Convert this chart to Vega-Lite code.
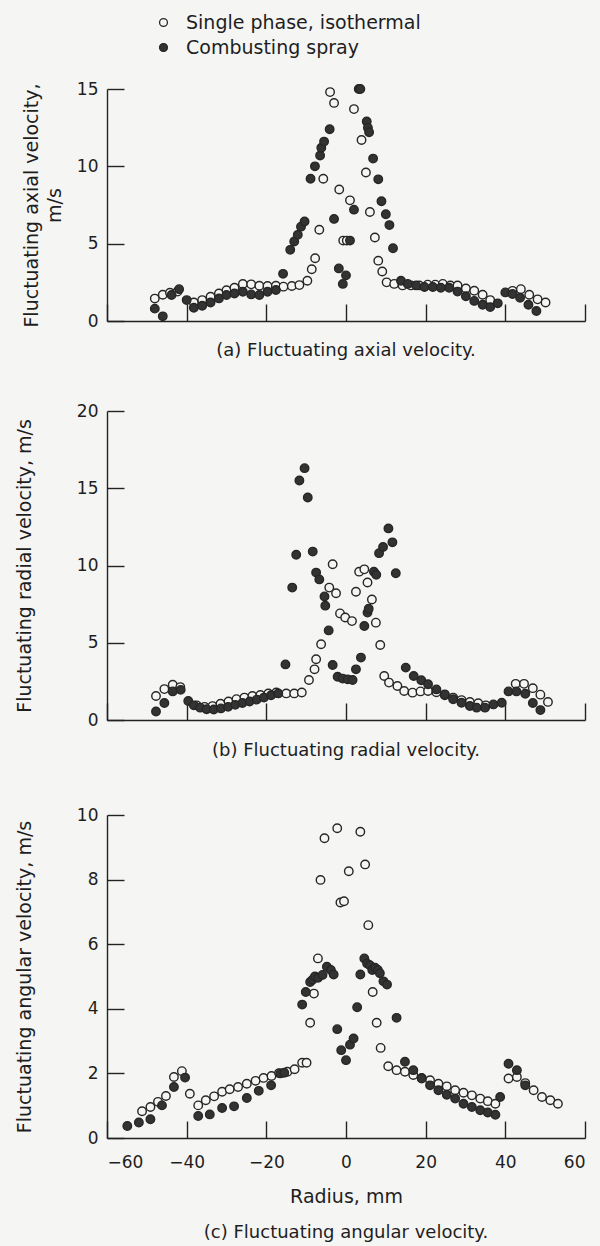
{
  "$schema": "https://vega.github.io/schema/vega-lite/v6.json",
  "background": "#f5f5f3",
  "padding": {"left": 15, "top": 13, "right": 14, "bottom": 5},
  "spacing": 42,
  "config": {
    "view": {"stroke": null},
    "font": "DejaVu Sans",
    "axis": {
      "grid": false,
      "domainColor": "#222",
      "domainWidth": 1.4,
      "tickColor": "#222",
      "tickWidth": 1.4,
      "tickSize": -17,
      "labelFontSize": 17,
      "labelColor": "#1e1e1e",
      "titleFontSize": 19,
      "titleFontWeight": "normal",
      "titleColor": "#1e1e1e"
    },
    "title": {"fontSize": 18, "fontWeight": "normal", "color": "#1e1e1e", "orient": "bottom", "anchor": "middle"}
  },
  "resolve": {"scale": {"fill": "independent"}, "legend": {"fill": "independent"}},
  "datasets": {
    "axial": [
      {"r": -48, "v": 1.45, "s": "Single phase, isothermal"},
      {"r": -46, "v": 1.7, "s": "Single phase, isothermal"},
      {"r": -44.2, "v": 1.83, "s": "Single phase, isothermal"},
      {"r": -42.3, "v": 1.9, "s": "Single phase, isothermal"},
      {"r": -38.2, "v": 1.2, "s": "Single phase, isothermal"},
      {"r": -36.1, "v": 1.35, "s": "Single phase, isothermal"},
      {"r": -34, "v": 1.57, "s": "Single phase, isothermal"},
      {"r": -31.9, "v": 1.78, "s": "Single phase, isothermal"},
      {"r": -30, "v": 1.99, "s": "Single phase, isothermal"},
      {"r": -28, "v": 2.15, "s": "Single phase, isothermal"},
      {"r": -25.9, "v": 2.39, "s": "Single phase, isothermal"},
      {"r": -23.8, "v": 2.37, "s": "Single phase, isothermal"},
      {"r": -21.75, "v": 2.28, "s": "Single phase, isothermal"},
      {"r": -19.7, "v": 2.26, "s": "Single phase, isothermal"},
      {"r": -17.6, "v": 2.28, "s": "Single phase, isothermal"},
      {"r": -15.7, "v": 2.22, "s": "Single phase, isothermal"},
      {"r": -13.6, "v": 2.26, "s": "Single phase, isothermal"},
      {"r": -11.7, "v": 2.32, "s": "Single phase, isothermal"},
      {"r": -9.7, "v": 2.6, "s": "Single phase, isothermal"},
      {"r": -8.6, "v": 3.35, "s": "Single phase, isothermal"},
      {"r": -7.75, "v": 4.06, "s": "Single phase, isothermal"},
      {"r": -6.7, "v": 5.9, "s": "Single phase, isothermal"},
      {"r": -5.7, "v": 9.2, "s": "Single phase, isothermal"},
      {"r": -4, "v": 14.8, "s": "Single phase, isothermal"},
      {"r": -3, "v": 14.1, "s": "Single phase, isothermal"},
      {"r": -1.7, "v": 8.5, "s": "Single phase, isothermal"},
      {"r": -0.7, "v": 5.2, "s": "Single phase, isothermal"},
      {"r": 0.2, "v": 5.2, "s": "Single phase, isothermal"},
      {"r": 1, "v": 7.8, "s": "Single phase, isothermal"},
      {"r": 2, "v": 13.7, "s": "Single phase, isothermal"},
      {"r": 3.9, "v": 11.7, "s": "Single phase, isothermal"},
      {"r": 5, "v": 9.6, "s": "Single phase, isothermal"},
      {"r": 6, "v": 7.05, "s": "Single phase, isothermal"},
      {"r": 7.25, "v": 5.4, "s": "Single phase, isothermal"},
      {"r": 8.1, "v": 3.9, "s": "Single phase, isothermal"},
      {"r": 9.1, "v": 3.2, "s": "Single phase, isothermal"},
      {"r": 10.2, "v": 2.5, "s": "Single phase, isothermal"},
      {"r": 12.1, "v": 2.4, "s": "Single phase, isothermal"},
      {"r": 14.2, "v": 2.3, "s": "Single phase, isothermal"},
      {"r": 16.3, "v": 2.3, "s": "Single phase, isothermal"},
      {"r": 18.4, "v": 2.3, "s": "Single phase, isothermal"},
      {"r": 20.5, "v": 2.35, "s": "Single phase, isothermal"},
      {"r": 22.4, "v": 2.35, "s": "Single phase, isothermal"},
      {"r": 24.3, "v": 2.4, "s": "Single phase, isothermal"},
      {"r": 26.2, "v": 2.3, "s": "Single phase, isothermal"},
      {"r": 28, "v": 2.3, "s": "Single phase, isothermal"},
      {"r": 30.1, "v": 2.1, "s": "Single phase, isothermal"},
      {"r": 32.2, "v": 1.96, "s": "Single phase, isothermal"},
      {"r": 34.3, "v": 1.7, "s": "Single phase, isothermal"},
      {"r": 36.2, "v": 1.35, "s": "Single phase, isothermal"},
      {"r": 41.8, "v": 1.95, "s": "Single phase, isothermal"},
      {"r": 43.9, "v": 2.06, "s": "Single phase, isothermal"},
      {"r": 46, "v": 1.7, "s": "Single phase, isothermal"},
      {"r": 48.1, "v": 1.4, "s": "Single phase, isothermal"},
      {"r": 50.1, "v": 1.2, "s": "Single phase, isothermal"},
      {"r": -48, "v": 0.8, "s": "Combusting spray"},
      {"r": -46, "v": 0.3, "s": "Combusting spray"},
      {"r": -43.8, "v": 1.68, "s": "Combusting spray"},
      {"r": -41.9, "v": 2.06, "s": "Combusting spray"},
      {"r": -40, "v": 1.35, "s": "Combusting spray"},
      {"r": -38.2, "v": 0.86, "s": "Combusting spray"},
      {"r": -36.1, "v": 0.99, "s": "Combusting spray"},
      {"r": -34, "v": 1.2, "s": "Combusting spray"},
      {"r": -31.9, "v": 1.46, "s": "Combusting spray"},
      {"r": -30, "v": 1.68, "s": "Combusting spray"},
      {"r": -28, "v": 1.78, "s": "Combusting spray"},
      {"r": -25.9, "v": 1.89, "s": "Combusting spray"},
      {"r": -23.8, "v": 1.72, "s": "Combusting spray"},
      {"r": -21.75, "v": 1.68, "s": "Combusting spray"},
      {"r": -19.7, "v": 1.89, "s": "Combusting spray"},
      {"r": -17.6, "v": 2.0, "s": "Combusting spray"},
      {"r": -15.8, "v": 3.05, "s": "Combusting spray"},
      {"r": -14.0, "v": 4.6, "s": "Combusting spray"},
      {"r": -13.0, "v": 5.14, "s": "Combusting spray"},
      {"r": -12.1, "v": 5.57, "s": "Combusting spray"},
      {"r": -11.3, "v": 6.1, "s": "Combusting spray"},
      {"r": -10.4, "v": 6.43, "s": "Combusting spray"},
      {"r": -8.9, "v": 9.2, "s": "Combusting spray"},
      {"r": -7.8, "v": 10.0, "s": "Combusting spray"},
      {"r": -6.5, "v": 10.7, "s": "Combusting spray"},
      {"r": -6.2, "v": 11.2, "s": "Combusting spray"},
      {"r": -5.5, "v": 11.6, "s": "Combusting spray"},
      {"r": -4.1, "v": 12.4, "s": "Combusting spray"},
      {"r": -3, "v": 6.6, "s": "Combusting spray"},
      {"r": -1.8, "v": 3.4, "s": "Combusting spray"},
      {"r": -0.8, "v": 2.4, "s": "Combusting spray"},
      {"r": 0, "v": 2.95, "s": "Combusting spray"},
      {"r": 1, "v": 5.2, "s": "Combusting spray"},
      {"r": 2, "v": 7.2, "s": "Combusting spray"},
      {"r": 3.2, "v": 15.0, "s": "Combusting spray"},
      {"r": 3.6, "v": 15.0, "s": "Combusting spray"},
      {"r": 5.2, "v": 12.9, "s": "Combusting spray"},
      {"r": 5.5, "v": 12.5, "s": "Combusting spray"},
      {"r": 5.8, "v": 12.2, "s": "Combusting spray"},
      {"r": 6.8, "v": 10.5, "s": "Combusting spray"},
      {"r": 8.1, "v": 9.16, "s": "Combusting spray"},
      {"r": 8.9, "v": 7.74, "s": "Combusting spray"},
      {"r": 10, "v": 6.9, "s": "Combusting spray"},
      {"r": 10.9, "v": 6.2, "s": "Combusting spray"},
      {"r": 11.8, "v": 4.7, "s": "Combusting spray"},
      {"r": 13.8, "v": 2.6, "s": "Combusting spray"},
      {"r": 15.5, "v": 2.4, "s": "Combusting spray"},
      {"r": 17.6, "v": 2.3, "s": "Combusting spray"},
      {"r": 19.7, "v": 2.2, "s": "Combusting spray"},
      {"r": 21.8, "v": 2.2, "s": "Combusting spray"},
      {"r": 23.8, "v": 2.15, "s": "Combusting spray"},
      {"r": 25.9, "v": 2.15, "s": "Combusting spray"},
      {"r": 28, "v": 1.9, "s": "Combusting spray"},
      {"r": 30.1, "v": 1.6, "s": "Combusting spray"},
      {"r": 32.2, "v": 1.3, "s": "Combusting spray"},
      {"r": 34.3, "v": 1.05, "s": "Combusting spray"},
      {"r": 36.2, "v": 0.9, "s": "Combusting spray"},
      {"r": 38.1, "v": 1.14, "s": "Combusting spray"},
      {"r": 40, "v": 1.85, "s": "Combusting spray"},
      {"r": 41.8, "v": 1.75, "s": "Combusting spray"},
      {"r": 43.7, "v": 1.5, "s": "Combusting spray"},
      {"r": 45.8, "v": 1.05, "s": "Combusting spray"},
      {"r": 47.8, "v": 0.65, "s": "Combusting spray"}
    ],
    "radial": [
      {"r": -47.7, "v": 1.55, "s": "Single phase, isothermal"},
      {"r": -45.6, "v": 2.0, "s": "Single phase, isothermal"},
      {"r": -43.5, "v": 2.28, "s": "Single phase, isothermal"},
      {"r": -41.6, "v": 2.13, "s": "Single phase, isothermal"},
      {"r": -37.5, "v": 0.95, "s": "Single phase, isothermal"},
      {"r": -35.5, "v": 0.85, "s": "Single phase, isothermal"},
      {"r": -33.5, "v": 0.9, "s": "Single phase, isothermal"},
      {"r": -31.5, "v": 1.05, "s": "Single phase, isothermal"},
      {"r": -29.5, "v": 1.2, "s": "Single phase, isothermal"},
      {"r": -27.5, "v": 1.35, "s": "Single phase, isothermal"},
      {"r": -25.5, "v": 1.45, "s": "Single phase, isothermal"},
      {"r": -23.5, "v": 1.55, "s": "Single phase, isothermal"},
      {"r": -21.5, "v": 1.62, "s": "Single phase, isothermal"},
      {"r": -19.5, "v": 1.72, "s": "Single phase, isothermal"},
      {"r": -17.5, "v": 1.78, "s": "Single phase, isothermal"},
      {"r": -15, "v": 1.72, "s": "Single phase, isothermal"},
      {"r": -13, "v": 1.72, "s": "Single phase, isothermal"},
      {"r": -11.1, "v": 1.78, "s": "Single phase, isothermal"},
      {"r": -9.3, "v": 2.59, "s": "Single phase, isothermal"},
      {"r": -7.9, "v": 3.28, "s": "Single phase, isothermal"},
      {"r": -7.5, "v": 3.93, "s": "Single phase, isothermal"},
      {"r": -6.25, "v": 4.9, "s": "Single phase, isothermal"},
      {"r": -4.2, "v": 8.57, "s": "Single phase, isothermal"},
      {"r": -3.35, "v": 10.08, "s": "Single phase, isothermal"},
      {"r": -2.5, "v": 8.2, "s": "Single phase, isothermal"},
      {"r": -1.5, "v": 6.9, "s": "Single phase, isothermal"},
      {"r": -0.2, "v": 6.63, "s": "Single phase, isothermal"},
      {"r": 1.5, "v": 6.4, "s": "Single phase, isothermal"},
      {"r": 2.5, "v": 8.3, "s": "Single phase, isothermal"},
      {"r": 3.3, "v": 9.6, "s": "Single phase, isothermal"},
      {"r": 4.6, "v": 9.75, "s": "Single phase, isothermal"},
      {"r": 5.4, "v": 8.9, "s": "Single phase, isothermal"},
      {"r": 6.5, "v": 7.8, "s": "Single phase, isothermal"},
      {"r": 7.5, "v": 6.3, "s": "Single phase, isothermal"},
      {"r": 8.6, "v": 4.85, "s": "Single phase, isothermal"},
      {"r": 9.6, "v": 2.85, "s": "Single phase, isothermal"},
      {"r": 10.8, "v": 2.42, "s": "Single phase, isothermal"},
      {"r": 12.9, "v": 2.2, "s": "Single phase, isothermal"},
      {"r": 14.6, "v": 1.88, "s": "Single phase, isothermal"},
      {"r": 16.7, "v": 1.77, "s": "Single phase, isothermal"},
      {"r": 18.7, "v": 1.85, "s": "Single phase, isothermal"},
      {"r": 20.6, "v": 1.88, "s": "Single phase, isothermal"},
      {"r": 22.7, "v": 1.8, "s": "Single phase, isothermal"},
      {"r": 24.8, "v": 1.6, "s": "Single phase, isothermal"},
      {"r": 26.9, "v": 1.45, "s": "Single phase, isothermal"},
      {"r": 29.0, "v": 1.29, "s": "Single phase, isothermal"},
      {"r": 31.1, "v": 1.17, "s": "Single phase, isothermal"},
      {"r": 33.2, "v": 1.08, "s": "Single phase, isothermal"},
      {"r": 35.1, "v": 0.95, "s": "Single phase, isothermal"},
      {"r": 42.6, "v": 2.34, "s": "Single phase, isothermal"},
      {"r": 44.7, "v": 2.34, "s": "Single phase, isothermal"},
      {"r": 46.9, "v": 2.06, "s": "Single phase, isothermal"},
      {"r": 48.8, "v": 1.64, "s": "Single phase, isothermal"},
      {"r": 50.7, "v": 1.17, "s": "Single phase, isothermal"},
      {"r": -47.7, "v": 0.55, "s": "Combusting spray"},
      {"r": -45.6, "v": 1.1, "s": "Combusting spray"},
      {"r": -43.5, "v": 1.85, "s": "Combusting spray"},
      {"r": -41.5, "v": 1.95, "s": "Combusting spray"},
      {"r": -39.6, "v": 1.23, "s": "Combusting spray"},
      {"r": -38.2, "v": 0.95, "s": "Combusting spray"},
      {"r": -36.6, "v": 0.8, "s": "Combusting spray"},
      {"r": -35, "v": 0.7, "s": "Combusting spray"},
      {"r": -33.2, "v": 0.68, "s": "Combusting spray"},
      {"r": -31.4, "v": 0.75, "s": "Combusting spray"},
      {"r": -29.6, "v": 0.85, "s": "Combusting spray"},
      {"r": -27.8, "v": 0.98, "s": "Combusting spray"},
      {"r": -26, "v": 1.1, "s": "Combusting spray"},
      {"r": -24.2, "v": 1.2, "s": "Combusting spray"},
      {"r": -22.4, "v": 1.32, "s": "Combusting spray"},
      {"r": -20.6, "v": 1.45, "s": "Combusting spray"},
      {"r": -18.8, "v": 1.6, "s": "Combusting spray"},
      {"r": -17, "v": 1.72, "s": "Combusting spray"},
      {"r": -15.2, "v": 3.6, "s": "Combusting spray"},
      {"r": -13.5, "v": 8.57, "s": "Combusting spray"},
      {"r": -12.5, "v": 10.7, "s": "Combusting spray"},
      {"r": -11.7, "v": 15.5, "s": "Combusting spray"},
      {"r": -10.4, "v": 16.3, "s": "Combusting spray"},
      {"r": -9.6, "v": 14.4, "s": "Combusting spray"},
      {"r": -8.35, "v": 10.9, "s": "Combusting spray"},
      {"r": -7.5, "v": 9.54, "s": "Combusting spray"},
      {"r": -6.7, "v": 9.1, "s": "Combusting spray"},
      {"r": -5.4, "v": 8.0, "s": "Combusting spray"},
      {"r": -5.2, "v": 7.4, "s": "Combusting spray"},
      {"r": -4.35, "v": 5.8, "s": "Combusting spray"},
      {"r": -3.35, "v": 3.56, "s": "Combusting spray"},
      {"r": -2.1, "v": 2.8, "s": "Combusting spray"},
      {"r": -0.85, "v": 2.68, "s": "Combusting spray"},
      {"r": 0.4, "v": 2.63, "s": "Combusting spray"},
      {"r": 1.65, "v": 2.59, "s": "Combusting spray"},
      {"r": 2.5, "v": 3.28, "s": "Combusting spray"},
      {"r": 3.75, "v": 4.04, "s": "Combusting spray"},
      {"r": 4.6, "v": 6.08, "s": "Combusting spray"},
      {"r": 5.4, "v": 6.95, "s": "Combusting spray"},
      {"r": 5.7, "v": 7.2, "s": "Combusting spray"},
      {"r": 7.0, "v": 9.6, "s": "Combusting spray"},
      {"r": 7.6, "v": 9.4, "s": "Combusting spray"},
      {"r": 8.3, "v": 10.8, "s": "Combusting spray"},
      {"r": 9.3, "v": 11.2, "s": "Combusting spray"},
      {"r": 10.65, "v": 12.4, "s": "Combusting spray"},
      {"r": 11.65, "v": 11.5, "s": "Combusting spray"},
      {"r": 12.5, "v": 9.5, "s": "Combusting spray"},
      {"r": 15.0, "v": 3.39, "s": "Combusting spray"},
      {"r": 17.0, "v": 2.85, "s": "Combusting spray"},
      {"r": 18.9, "v": 2.57, "s": "Combusting spray"},
      {"r": 20.6, "v": 2.31, "s": "Combusting spray"},
      {"r": 22.7, "v": 1.98, "s": "Combusting spray"},
      {"r": 24.8, "v": 1.66, "s": "Combusting spray"},
      {"r": 26.9, "v": 1.34, "s": "Combusting spray"},
      {"r": 29.0, "v": 1.12, "s": "Combusting spray"},
      {"r": 31.1, "v": 0.91, "s": "Combusting spray"},
      {"r": 32.8, "v": 0.8, "s": "Combusting spray"},
      {"r": 34.9, "v": 0.8, "s": "Combusting spray"},
      {"r": 37.0, "v": 1.01, "s": "Combusting spray"},
      {"r": 39.1, "v": 1.12, "s": "Combusting spray"},
      {"r": 40.8, "v": 1.85, "s": "Combusting spray"},
      {"r": 42.8, "v": 1.85, "s": "Combusting spray"},
      {"r": 45, "v": 1.7, "s": "Combusting spray"},
      {"r": 46.9, "v": 1.1, "s": "Combusting spray"},
      {"r": 48.8, "v": 0.64, "s": "Combusting spray"}
    ],
    "angular": [
      {"r": -51.2, "v": 0.83, "s": "Single phase, isothermal"},
      {"r": -49.1, "v": 0.96, "s": "Single phase, isothermal"},
      {"r": -47.2, "v": 1.12, "s": "Single phase, isothermal"},
      {"r": -45.2, "v": 1.3, "s": "Single phase, isothermal"},
      {"r": -43.2, "v": 1.89, "s": "Single phase, isothermal"},
      {"r": -41.2, "v": 2.07, "s": "Single phase, isothermal"},
      {"r": -39.2, "v": 1.37, "s": "Single phase, isothermal"},
      {"r": -37.1, "v": 1.01, "s": "Single phase, isothermal"},
      {"r": -35.2, "v": 1.17, "s": "Single phase, isothermal"},
      {"r": -33.1, "v": 1.29, "s": "Single phase, isothermal"},
      {"r": -31.1, "v": 1.43, "s": "Single phase, isothermal"},
      {"r": -29.2, "v": 1.51, "s": "Single phase, isothermal"},
      {"r": -27.1, "v": 1.58, "s": "Single phase, isothermal"},
      {"r": -24.9, "v": 1.68, "s": "Single phase, isothermal"},
      {"r": -22.7, "v": 1.77, "s": "Single phase, isothermal"},
      {"r": -20.7, "v": 1.86, "s": "Single phase, isothermal"},
      {"r": -18.7, "v": 1.92, "s": "Single phase, isothermal"},
      {"r": -16.8, "v": 2.01, "s": "Single phase, isothermal"},
      {"r": -14.7, "v": 2.05, "s": "Single phase, isothermal"},
      {"r": -12.9, "v": 2.13, "s": "Single phase, isothermal"},
      {"r": -11.0, "v": 2.33, "s": "Single phase, isothermal"},
      {"r": -9.9, "v": 2.33, "s": "Single phase, isothermal"},
      {"r": -9.0, "v": 3.57, "s": "Single phase, isothermal"},
      {"r": -8.05, "v": 4.47, "s": "Single phase, isothermal"},
      {"r": -7.05, "v": 5.56, "s": "Single phase, isothermal"},
      {"r": -6.4, "v": 7.99, "s": "Single phase, isothermal"},
      {"r": -5.4, "v": 9.28, "s": "Single phase, isothermal"},
      {"r": -2.2, "v": 9.59, "s": "Single phase, isothermal"},
      {"r": -1.4, "v": 7.29, "s": "Single phase, isothermal"},
      {"r": -0.5, "v": 7.33, "s": "Single phase, isothermal"},
      {"r": 0.7, "v": 8.26, "s": "Single phase, isothermal"},
      {"r": 3.6, "v": 9.48, "s": "Single phase, isothermal"},
      {"r": 4.8, "v": 8.47, "s": "Single phase, isothermal"},
      {"r": 5.6, "v": 6.59, "s": "Single phase, isothermal"},
      {"r": 6.7, "v": 4.52, "s": "Single phase, isothermal"},
      {"r": 7.7, "v": 3.57, "s": "Single phase, isothermal"},
      {"r": 8.7, "v": 2.79, "s": "Single phase, isothermal"},
      {"r": 10.6, "v": 2.22, "s": "Single phase, isothermal"},
      {"r": 12.7, "v": 2.1, "s": "Single phase, isothermal"},
      {"r": 14.8, "v": 2.05, "s": "Single phase, isothermal"},
      {"r": 16.9, "v": 1.95, "s": "Single phase, isothermal"},
      {"r": 19.0, "v": 1.86, "s": "Single phase, isothermal"},
      {"r": 21.1, "v": 1.79, "s": "Single phase, isothermal"},
      {"r": 23.2, "v": 1.68, "s": "Single phase, isothermal"},
      {"r": 25.3, "v": 1.6, "s": "Single phase, isothermal"},
      {"r": 27.4, "v": 1.48, "s": "Single phase, isothermal"},
      {"r": 29.5, "v": 1.4, "s": "Single phase, isothermal"},
      {"r": 31.6, "v": 1.32, "s": "Single phase, isothermal"},
      {"r": 33.7, "v": 1.22, "s": "Single phase, isothermal"},
      {"r": 35.6, "v": 1.14, "s": "Single phase, isothermal"},
      {"r": 37.5, "v": 1.06, "s": "Single phase, isothermal"},
      {"r": 40.8, "v": 1.84, "s": "Single phase, isothermal"},
      {"r": 42.9, "v": 1.89, "s": "Single phase, isothermal"},
      {"r": 45.0, "v": 1.7, "s": "Single phase, isothermal"},
      {"r": 47.1, "v": 1.48, "s": "Single phase, isothermal"},
      {"r": 49.2, "v": 1.27, "s": "Single phase, isothermal"},
      {"r": 51.3, "v": 1.17, "s": "Single phase, isothermal"},
      {"r": 53.2, "v": 1.06, "s": "Single phase, isothermal"},
      {"r": -54.9, "v": 0.37, "s": "Combusting spray"},
      {"r": -52.0, "v": 0.48, "s": "Combusting spray"},
      {"r": -49.1, "v": 0.58, "s": "Combusting spray"},
      {"r": -46.2, "v": 1.01, "s": "Combusting spray"},
      {"r": -43.2, "v": 1.58, "s": "Combusting spray"},
      {"r": -40.4, "v": 1.87, "s": "Combusting spray"},
      {"r": -37.1, "v": 0.68, "s": "Combusting spray"},
      {"r": -34.2, "v": 0.73, "s": "Combusting spray"},
      {"r": -31.1, "v": 0.93, "s": "Combusting spray"},
      {"r": -28.1, "v": 0.98, "s": "Combusting spray"},
      {"r": -24.9, "v": 1.24, "s": "Combusting spray"},
      {"r": -21.9, "v": 1.46, "s": "Combusting spray"},
      {"r": -18.8, "v": 1.63, "s": "Combusting spray"},
      {"r": -16.5, "v": 2.0, "s": "Combusting spray"},
      {"r": -15.5, "v": 2.02, "s": "Combusting spray"},
      {"r": -11.0, "v": 4.13, "s": "Combusting spray"},
      {"r": -10.1, "v": 4.52, "s": "Combusting spray"},
      {"r": -9.0, "v": 4.83, "s": "Combusting spray"},
      {"r": -8.4, "v": 4.9, "s": "Combusting spray"},
      {"r": -7.8, "v": 5.0, "s": "Combusting spray"},
      {"r": -7.0, "v": 4.96, "s": "Combusting spray"},
      {"r": -5.9, "v": 5.05, "s": "Combusting spray"},
      {"r": -4.8, "v": 5.3, "s": "Combusting spray"},
      {"r": -3.8, "v": 5.2, "s": "Combusting spray"},
      {"r": -3.1, "v": 5.06, "s": "Combusting spray"},
      {"r": -2.2, "v": 3.37, "s": "Combusting spray"},
      {"r": -1.2, "v": 2.72, "s": "Combusting spray"},
      {"r": 0.0, "v": 2.41, "s": "Combusting spray"},
      {"r": 1.0, "v": 2.89, "s": "Combusting spray"},
      {"r": 1.9, "v": 3.08, "s": "Combusting spray"},
      {"r": 2.8, "v": 4.05, "s": "Combusting spray"},
      {"r": 3.6, "v": 5.06, "s": "Combusting spray"},
      {"r": 4.6, "v": 5.56, "s": "Combusting spray"},
      {"r": 5.3, "v": 5.4, "s": "Combusting spray"},
      {"r": 6.0, "v": 5.35, "s": "Combusting spray"},
      {"r": 6.6, "v": 5.2, "s": "Combusting spray"},
      {"r": 7.3, "v": 5.27, "s": "Combusting spray"},
      {"r": 8.0, "v": 5.2, "s": "Combusting spray"},
      {"r": 8.5, "v": 5.1, "s": "Combusting spray"},
      {"r": 9.4, "v": 4.85, "s": "Combusting spray"},
      {"r": 10.3, "v": 4.75, "s": "Combusting spray"},
      {"r": 12.7, "v": 3.72, "s": "Combusting spray"},
      {"r": 14.8, "v": 2.36, "s": "Combusting spray"},
      {"r": 16.9, "v": 2.1, "s": "Combusting spray"},
      {"r": 19.0, "v": 1.84, "s": "Combusting spray"},
      {"r": 21.1, "v": 1.63, "s": "Combusting spray"},
      {"r": 23.2, "v": 1.48, "s": "Combusting spray"},
      {"r": 25.3, "v": 1.34, "s": "Combusting spray"},
      {"r": 27.4, "v": 1.22, "s": "Combusting spray"},
      {"r": 29.5, "v": 1.06, "s": "Combusting spray"},
      {"r": 31.6, "v": 0.96, "s": "Combusting spray"},
      {"r": 33.7, "v": 0.86, "s": "Combusting spray"},
      {"r": 35.6, "v": 0.79, "s": "Combusting spray"},
      {"r": 37.5, "v": 0.72, "s": "Combusting spray"},
      {"r": 38.7, "v": 1.27, "s": "Combusting spray"},
      {"r": 40.8, "v": 2.3, "s": "Combusting spray"},
      {"r": 42.9, "v": 2.1, "s": "Combusting spray"},
      {"r": 45.0, "v": 1.63, "s": "Combusting spray"}
    ]
  },
  "vconcat": [
    {
      "width": 478,
      "height": 232,
      "data": {"name": "axial"},
      "title": {"text": "(a) Fluctuating axial velocity.", "offset": 13},
      "mark": {"type": "point", "shape": "circle", "filled": true, "stroke": "#262626", "strokeWidth": 1.4, "size": 72, "opacity": 1},
      "encoding": {
        "x": {"field": "r", "type": "quantitative", "scale": {"domain": [-60, 60], "nice": false},
              "axis": {"values": [-60, -40, -20, 0, 20, 40, 60], "labels": false, "title": null}},
        "y": {"field": "v", "type": "quantitative", "scale": {"domain": [0, 15], "nice": false},
              "axis": {"values": [0, 5, 10, 15], "title": ["Fluctuating axial velocity,", "m/s"], "titleLineHeight": 23, "titleX": -66, "labelPadding": 26}},
        "fill": {"field": "s", "type": "nominal",
                 "scale": {"domain": ["Single phase, isothermal", "Combusting spray"], "range": ["#f5f5f3", "#333333"]},
                 "legend": {"orient": "none", "legendX": 47, "legendY": -76, "title": null, "padding": 0,
                            "symbolType": "circle", "symbolSize": 62, "symbolStrokeColor": "#262626", "symbolStrokeWidth": 1.3,
                            "labelFontSize": 19, "labelColor": "#1e1e1e", "labelOffset": 13, "labelLimit": 0, "rowPadding": 5}}
      }
    },
    {
      "width": 478,
      "height": 309,
      "data": {"name": "radial"},
      "title": {"text": "(b) Fluctuating radial velocity.", "subtitle": " ", "subtitleFontSize": 4, "subtitlePadding": 0, "offset": 14},
      "mark": {"type": "point", "shape": "circle", "filled": true, "stroke": "#262626", "strokeWidth": 1.4, "size": 72, "opacity": 1},
      "encoding": {
        "x": {"field": "r", "type": "quantitative", "scale": {"domain": [-60, 60], "nice": false},
              "axis": {"values": [-60, -40, -20, 0, 20, 40, 60], "labels": false, "title": null}},
        "y": {"field": "v", "type": "quantitative", "scale": {"domain": [0, 20], "nice": false},
              "axis": {"values": [0, 5, 10, 15, 20], "title": "Fluctuating radial velocity, m/s", "titleX": -73, "labelPadding": 26}},
        "fill": {"field": "s", "type": "nominal",
                 "scale": {"domain": ["Single phase, isothermal", "Combusting spray"], "range": ["#f5f5f3", "#333333"]},
                 "legend": null}
      }
    },
    {
      "width": 478,
      "height": 323,
      "data": {"name": "angular"},
      "title": {"text": "(c) Fluctuating angular velocity.", "offset": 18},
      "mark": {"type": "point", "shape": "circle", "filled": true, "stroke": "#262626", "strokeWidth": 1.4, "size": 72, "opacity": 1},
      "encoding": {
        "x": {"field": "r", "type": "quantitative", "scale": {"domain": [-60, 60], "nice": false},
              "axis": {"values": [-60, -40, -20, 0, 20, 40, 60], "title": "Radius, mm", "labelPadding": 33, "titlePadding": 17}},
        "y": {"field": "v", "type": "quantitative", "scale": {"domain": [0, 10], "nice": false},
              "axis": {"values": [0, 2, 4, 6, 8, 10], "title": "Fluctuating angular velocity, m/s", "titleX": -73, "labelPadding": 26}},
        "fill": {"field": "s", "type": "nominal",
                 "scale": {"domain": ["Single phase, isothermal", "Combusting spray"], "range": ["#f5f5f3", "#333333"]},
                 "legend": null}
      }
    }
  ]
}
